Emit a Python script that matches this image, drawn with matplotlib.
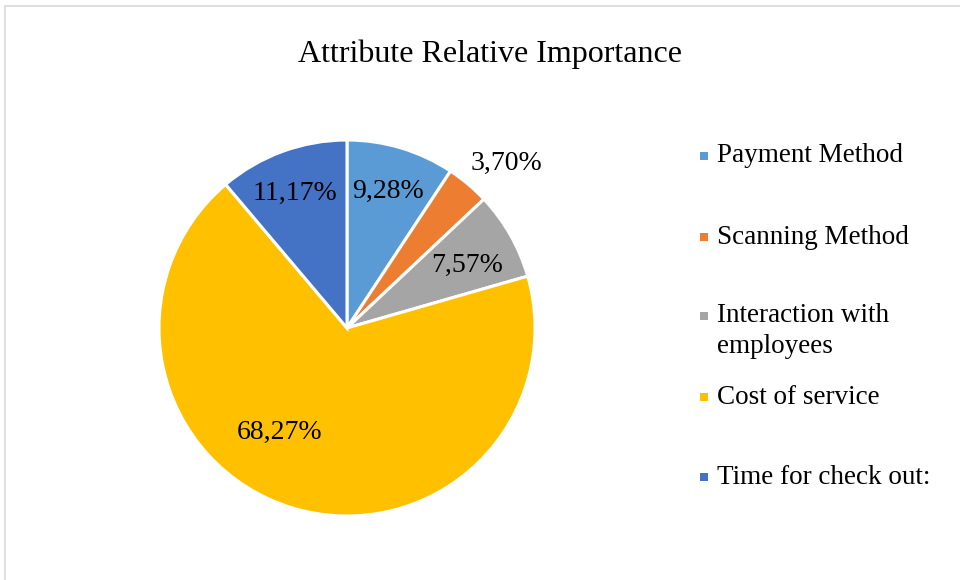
import matplotlib.pyplot as plt
from matplotlib.patches import Rectangle
import numpy as np

plt.rcParams['font.family'] = ['Liberation Serif', 'DejaVu Serif']

# Relative importance of each attribute (%)
attributes = ['Payment Method', 'Scanning Method', 'Interaction with\nemployees',
              'Cost of service', 'Time for check out:']
importance = [9.28, 3.70, 7.57, 68.27, 11.17]
colors = ['#5B9BD5', '#ED7D31', '#A5A5A5', '#FFC000', '#4472C4']

# radial distance of each value label (as a fraction of the radius)
label_dist = [0.76, 1.22, 0.72, 0.66, 0.77]
# angular nudge (degrees) for labels moved off the slice centre
label_shift = [0, -4, -2, -16, 1]

W, H = 960, 580
fig = plt.figure(figsize=(W / 100, H / 100), dpi=100)

# thin grey chart-area frame
fig.patches.append(Rectangle((5 / W, -0.1), 1.2, (H - 6) / H + 0.1, transform=fig.transFigure,
                             fill=False, edgecolor='#D9D9D9', linewidth=1.2))

cx, cy, r = 347, 328, 188
ax = fig.add_axes([(cx - r) / W, (H - cy - r) / H, 2 * r / W, 2 * r / H])
wedges, _ = ax.pie(importance, colors=colors, startangle=90, counterclock=False,
                   wedgeprops=dict(edgecolor='white', linewidth=2.2), radius=1)
ax.set_xlim(-1, 1)
ax.set_ylim(-1, 1)
ax.set_aspect('auto')
ax.axis('off')

for w, val, d, s in zip(wedges, importance, label_dist, label_shift):
    ang = np.deg2rad((w.theta1 + w.theta2) / 2 + s)
    ax.text(d * np.cos(ang), d * np.sin(ang), f'{val:.2f}%'.replace('.', ','),
            ha='center', va='center', fontsize=20, color='#000000')

fig.text(490 / W, 1 - 54 / H, 'Attribute Relative Importance', ha='center', va='center',
         fontsize=23)

# legend entries
legend_y = [156, 237, 331, 397, 477]
for name, col, y in zip(attributes, colors, legend_y):
    sq_y = y if '\n' not in name else y - 15
    fig.patches.append(Rectangle((700 / W, 1 - (sq_y + 4) / H), 8 / W, 8 / H,
                                 transform=fig.transFigure, facecolor=col, edgecolor='none'))
    fig.text(717 / W, 1 - y / H, name, ha='left', va='center', fontsize=19.5,
             linespacing=1.3)

fig.savefig('out.png', dpi=100)
